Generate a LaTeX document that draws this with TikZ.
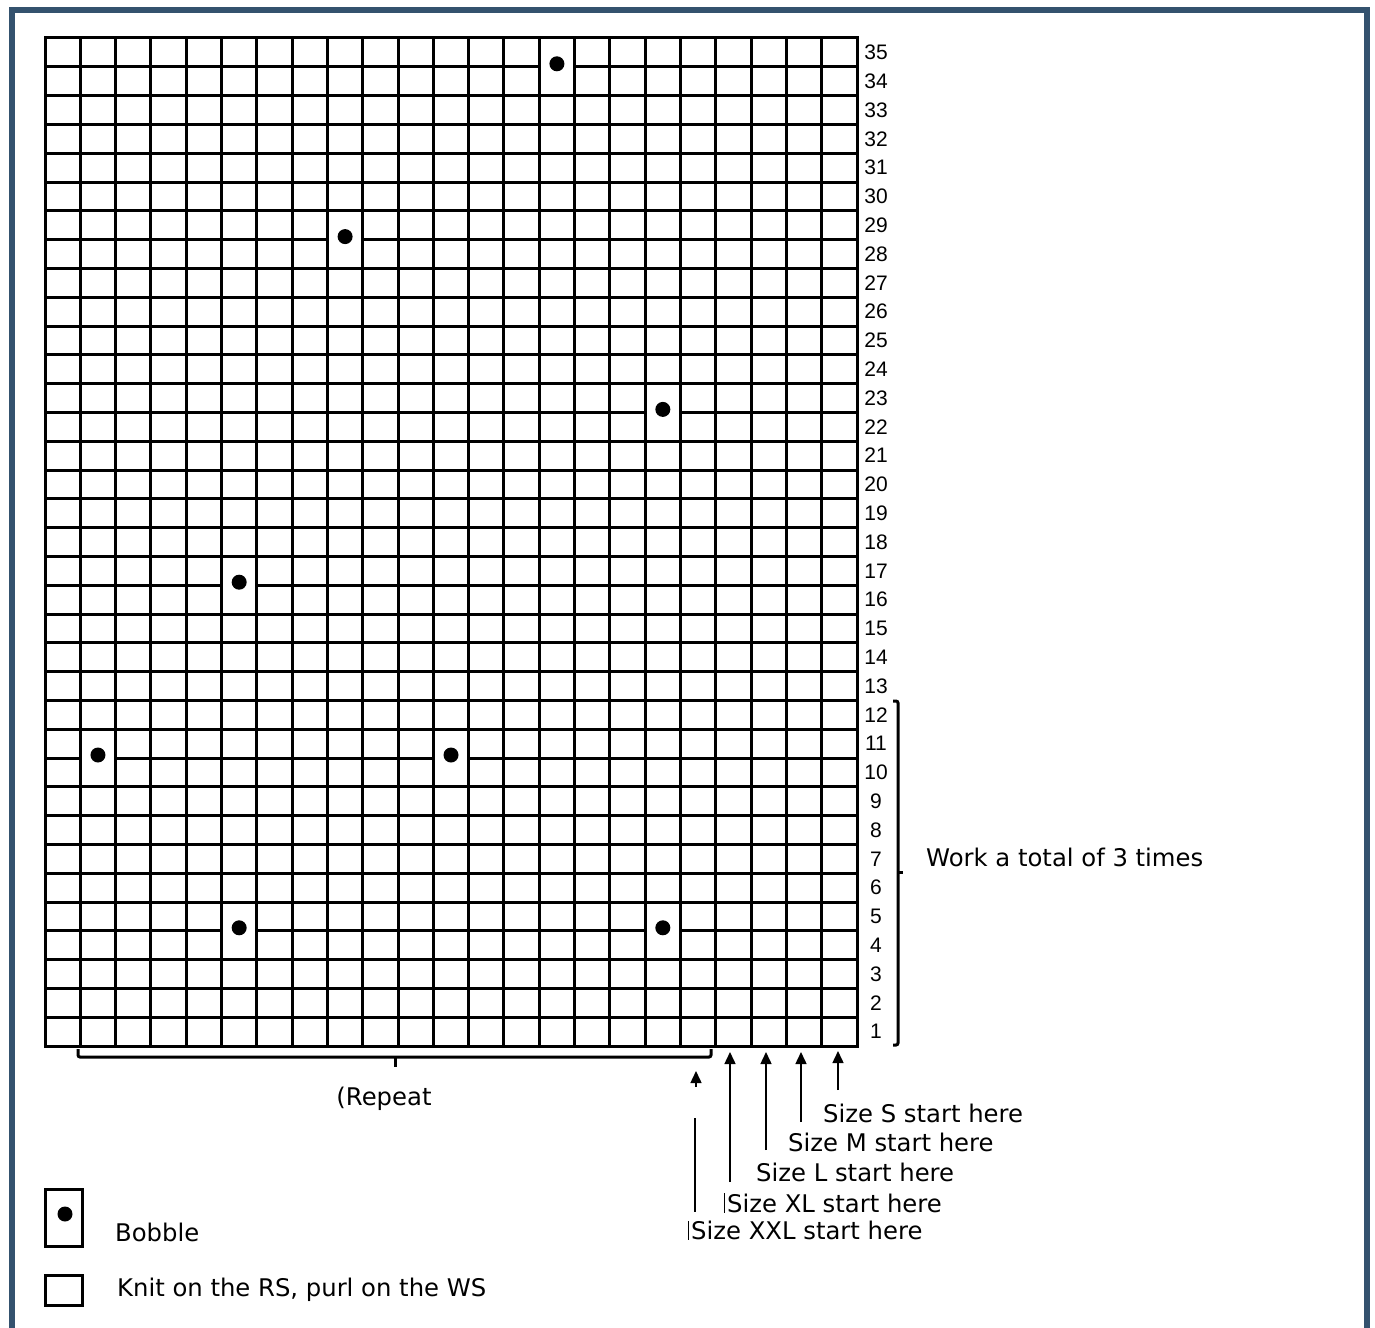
\documentclass[tikz,border=0pt]{standalone}
\usepackage{fontspec}
\setmainfont{DejaVu Sans}
\newfontfamily\numfont{Liberation Sans}
\usetikzlibrary{arrows.meta}
\definecolor{framecol}{RGB}{52,82,110}
\tikzset{
  gridline/.style={line width=3pt},
  numlabel/.style={font=\numfont\fontsize{21}{21}\selectfont, inner sep=0pt},
  txt/.style={font=\fontsize{24.3}{25}\selectfont, inner sep=0pt, anchor=west},
  brace/.style={line width=3pt, rounded corners=2pt},
  uparrow/.style={line width=1.5pt, -{Triangle[length=12pt,width=11pt]}},
  bar/.style={line width=1pt},
  bobble/.style={fill=black}
}
\begin{document}
\begin{tikzpicture}[x=1pt,y=-1pt]
\useasboundingbox (0,0) rectangle (1375,1327);
% frame
\draw[framecol, line width=6pt] (11.5,1335) -- (11.5,10.5) -- (1366.5,10.5) -- (1366.5,1335);
% grid
\def\gx{45}\def\gy{38}\def\cw{35.3043}\def\rh{28.8}
\foreach \i in {1,...,22} \draw[gridline] (\gx+\i*\cw,\gy) -- (\gx+\i*\cw,1046);
\foreach \j in {1,...,34} \draw[gridline] (\gx,\gy+\j*\rh) -- (857,\gy+\j*\rh);
\draw[gridline] (45,38) rectangle (857,1046);
% bobbles: column, line index
\foreach \c/\k [count=\n] in {14/1, 8/7, 17/13, 5/19, 1/25, 11/25, 5/31, 17/31} {
  \fill[white] (\gx+\c*\cw+1.6,\gy+\k*\rh-1.8) rectangle (\gx+\c*\cw+\cw-1.6,\gy+\k*\rh+1.8);
  \fill[bobble] (\gx+\c*\cw+0.5*\cw,\gy+\k*\rh-3) circle (7.5);
}
% row numbers
\foreach \k in {1,...,35}
  \node[numlabel] (row\k) at (876,1046-\k*\rh+0.5*\rh) {\k};
% right bracket
\coordinate (bt) at (898,701);
\coordinate (bb) at (898,1045);
\draw[brace] (893,701) -- (bt) -- (bb) -- (893,1045);
\draw[line width=3pt] (898,872) -- (903,872);
\node[txt] (work) at (926,857) {Work a total of 3 times};
% bottom bracket
\draw[brace] (78,1049) -- (78,1057) -- (711,1057) -- (711,1049);
\draw[line width=3pt] (395,1057) -- (395,1067);
\node[txt, anchor=center] (rep) at (384,1099) {(Repeat};
% size arrows
\node[txt] (s) at (823,1113) {Size S start here};
\node[txt] (m) at (788,1142) {Size M start here};
\node[txt] (l) at (756,1172) {Size L start here};
\node[txt] (xl) at (727,1203) {Size XL start here};
\node[txt] (xxl) at (691,1230) {Size XXL start here};
\coordinate (aS) at (838,1051);
\coordinate (aM) at (801,1052);
\coordinate (aL) at (766,1052);
\coordinate (aXL) at (730,1052);
\coordinate (aXXL) at (696,1071);
\draw[uparrow] (838,1090) -- (aS);
\draw[uparrow] (801,1122) -- (aM);
\draw[uparrow] (766,1150) -- (aL);
\draw[uparrow] (730,1182) -- (aXL);
\draw[uparrow] (696,1087) -- (aXXL);
\draw[line width=1.5pt] (695,1118) -- (695,1212);
\draw[bar] (724,1193) -- (724,1213);
\draw[bar] (688,1221) -- (688,1240);
% legend
\draw[line width=3pt] (45,1189) rectangle (82,1246);
\fill[bobble] (65,1214) circle (7.5);
\node[txt] (bob) at (115,1232) {Bobble};
\draw[line width=3pt] (45,1275) rectangle (82,1305);
\node[txt] (knit) at (117,1290) {Knit on the RS, purl on the WS};
\end{tikzpicture}
\end{document}
